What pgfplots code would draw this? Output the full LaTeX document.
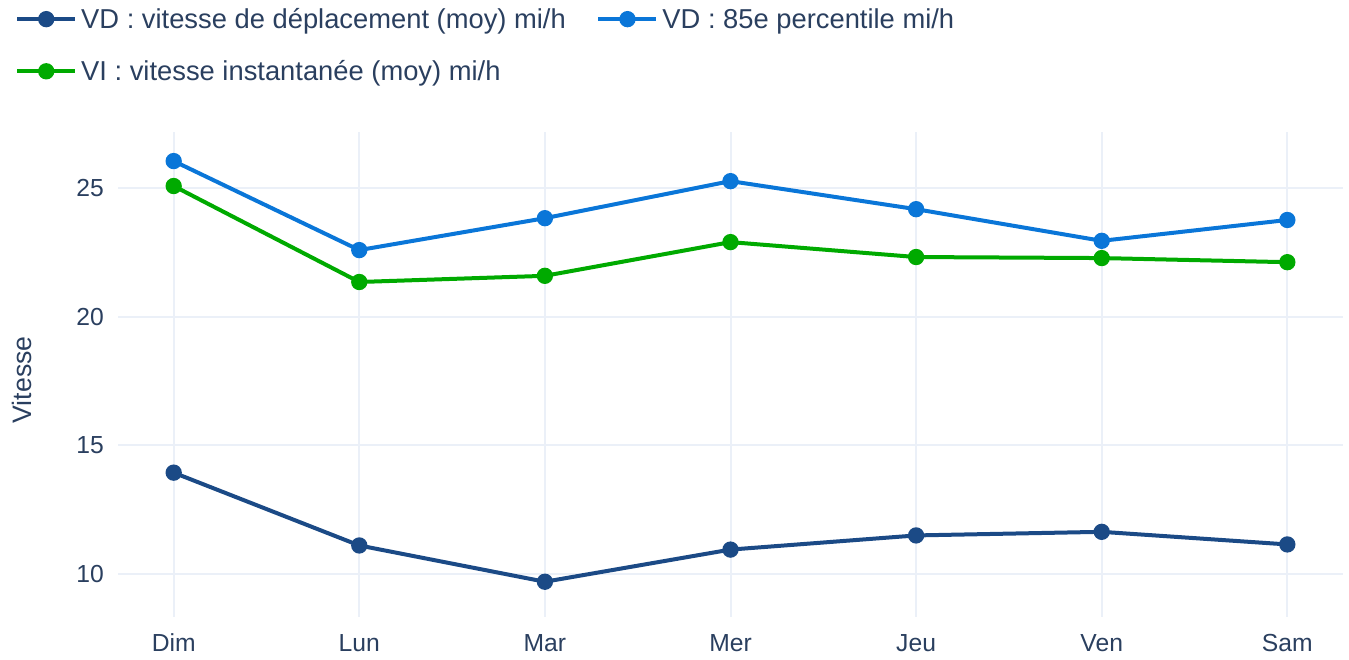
\documentclass[border=0pt]{standalone}
\usepackage{fontspec}
\setmainfont{Liberation Sans}
\usepackage{pgfplots}
\pgfplotsset{compat=1.18}
\definecolor{txt}{HTML}{2A3F5F}
\definecolor{gridc}{HTML}{EBF0F8}
\definecolor{c1}{HTML}{1B4A86}
\definecolor{c2}{HTML}{0A76D8}
\definecolor{c3}{HTML}{00AA00}
\begin{document}
\begin{tikzpicture}
\path[use as bounding box] (0,0) rectangle (1011.75pt,495pt);
\begin{axis}[
  at={(88.5pt,32.25pt)}, anchor=south west,
  scale only axis, width=918.75pt, height=363.75pt,
  xmin=-0.3, xmax=6.3, ymin=8.33, ymax=27.18,
  xtick={0,1,2,3,4,5,6},
  xticklabels={Dim,Lun,Mar,Mer,Jeu,Ven,Sam},
  ytick={10,15,20,25},
  axis line style={draw=none},
  major tick length=0pt,
  grid=major,
  major grid style={draw=gridc, line width=1.5pt},
  tick label style={font=\fontsize{18.5}{18.5}\selectfont, text=txt},
  /pgf/number format/assume math mode=true,
  yticklabel style={anchor=east, inner sep=0pt, xshift=-10.5pt},
  xticklabel style={anchor=base, inner sep=0pt, yshift=-26.25pt},
  ylabel={Vitesse},
  ylabel style={at={(axis description cs:-0.0784,0.489)}, anchor=center, font=\fontsize{20}{20}\selectfont, text=txt},
  legend columns=2,
  legend cell align=left,
  legend style={at={(axis description cs:-0.0841,1.256)}, anchor=north west,
    draw=none, fill=none, inner sep=0pt,
    font=\fontsize{20.5}{20.5}\selectfont, text=txt,
    nodes={inner sep=0pt},
    row sep=22.5pt,
    /tikz/every odd column/.append style={column sep=3pt},
    /tikz/every even column/.append style={column sep=23pt}},
  legend image code/.code={\draw[#1, mark repeat=2, mark phase=2] plot coordinates {(0pt,0pt) (21.75pt,0pt) (43.5pt,0pt)};},
]
\addplot[c1, line width=3pt, mark=*, mark size=4.6pt, mark options={solid, fill=c1, draw=none}]
  coordinates {(0,13.94) (1,11.11) (2,9.70) (3,10.95) (4,11.50) (5,11.64) (6,11.15)};
\addlegendentry{VD : vitesse de déplacement (moy) mi/h}
\addplot[c2, line width=3pt, mark=*, mark size=4.6pt, mark options={solid, fill=c2, draw=none}]
  coordinates {(0,26.05) (1,22.59) (2,23.83) (3,25.27) (4,24.18) (5,22.95) (6,23.76)};
\addlegendentry{VD : 85e percentile mi/h}
\addplot[c3, line width=3pt, mark=*, mark size=4.6pt, mark options={solid, fill=c3, draw=none}]
  coordinates {(0,25.08) (1,21.35) (2,21.59) (3,22.90) (4,22.32) (5,22.28) (6,22.12)};
\addlegendentry{VI : vitesse instantanée (moy) mi/h}
\end{axis}
\end{tikzpicture}
\end{document}
